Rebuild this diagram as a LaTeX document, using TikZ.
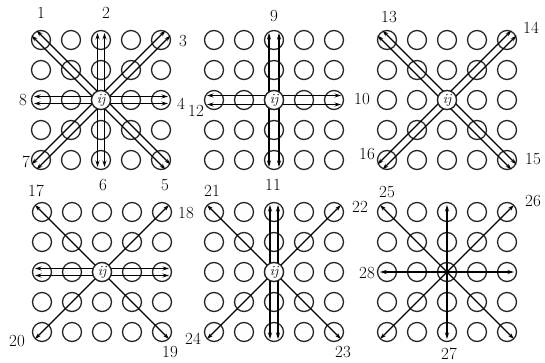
\documentclass[tikz,border=0pt]{standalone}
\usetikzlibrary{arrows.meta}

\tikzset{
  cell/.style={circle, draw=black!85, line width=1.3pt, minimum size=19pt, inner sep=0pt},
  ctr/.style={cell, fill=white, font=\rmfamily\fontsize{14}{14}\selectfont\itshape},
  ray/.style={line width=1.1pt, -{Stealth[length=6.5pt,width=4pt]}},
  num/.style={font=\rmfamily\fontsize{17}{17}\selectfont, inner sep=0pt}
}

\begin{document}
\begin{tikzpicture}[x=1pt, y=-1pt]
\useasboundingbox (0,0) rectangle (545,363);
% six 5x5 neighbourhoods
\foreach \p/\cx/\cy in {a/101/100, b/274/100, c/447/100, d/102/272, e/274/272, f/447/272}
  \foreach \i in {1,...,5}
    \foreach \j in {1,...,5}
      \node[cell] (\p\i\j) at ({\cx+30*(\i-3)}, {\cy+30*(\j-3)}) {};
% end points of the rays
\foreach \p in {a,b,c,d,e,f}
  \foreach \d/\dx/\dy in {n/0/-1, ne/1/-1, e/1/0, se/1/1, s/0/1, sw/-1/1, w/-1/0, nw/-1/-1}
    \coordinate (\p-\d) at ([shift={({67*\dx},{67*\dy})}]\p33.center);
% paired rays
\foreach \p/\d/\dx/\dy/\s in {a/n/0/-1/3.5, a/ne/1/-1/2.5, a/e/1/0/3.5, a/se/1/1/2.5,
    a/s/0/1/3.5, a/sw/-1/1/2.5, a/w/-1/0/3.5, a/nw/-1/-1/2.5,
    b/n/0/-1/5, b/e/1/0/4.5, b/s/0/1/5, b/w/-1/0/4.5,
    c/ne/1/-1/2.5, c/se/1/1/2.5, c/sw/-1/1/2.5, c/nw/-1/-1/2.5,
    d/e/1/0/3.5, d/w/-1/0/3.5, e/n/0/-1/4, e/s/0/1/4} {
  \draw[ray] ([shift={({-1*\dy*\s},{\dx*\s})}]\p33.center) -- ([shift={({-1*\dy*\s},{\dx*\s})}]\p-\d);
  \draw[ray] ([shift={({\dy*\s},{-1*\dx*\s})}]\p33.center) -- ([shift={({\dy*\s},{-1*\dx*\s})}]\p-\d);
}
% single rays
\foreach \p/\d in {d/ne, d/se, d/sw, d/nw, e/ne, e/se, e/sw, e/nw,
    f/n, f/ne, f/e, f/se, f/s, f/sw, f/w, f/nw}
  \draw[ray] (\p33.center) -- (\p-\d);
% centre cells
\foreach \p in {a,b,c,d,e}
  \node[ctr] (\p-ij) at (\p33) {ij};
% numbers
\foreach \n/\x/\y in {1/41/13, 2/106/13, 3/183/41, 4/181/104, 5/165/185, 6/103/185,
    7/26/162, 8/23/100, 9/274/16, 10/362/99, 11/273/185, 12/196/111,
    13/389/17, 14/531/28, 15/533/159, 16/367/154, 17/36/191, 18/186/213,
    19/170/352, 20/17/341, 21/212/191, 22/360/207, 23/343/352, 24/193/339,
    25/387/192, 26/533/201, 27/449/354, 28/367/273}
  \node[num] (l\n) at (\x,\y) {\n};
\end{tikzpicture}
\end{document}
